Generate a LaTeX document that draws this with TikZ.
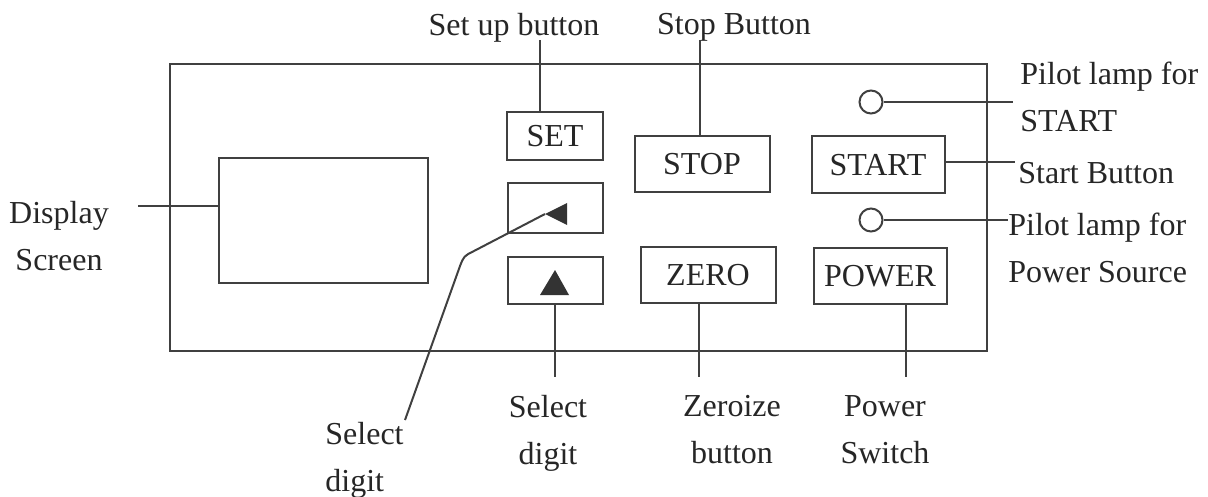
\documentclass[tikz,border=0pt]{standalone}
\usepackage{fontspec}
\setmainfont{Liberation Serif}
\begin{document}
\begin{tikzpicture}[x=0.5pt,y=-0.5pt,
  line/.style={draw=black!75,line width=1pt},
  btn/.style={draw=black!75,line width=1pt,inner sep=0pt,text=black!85,font=\fontsize{16}{23.5}\selectfont},
  lbl/.style={inner sep=0pt,text=black!85,font=\fontsize{16}{23.5}\selectfont},
  lamp/.style={draw=black!75,line width=1pt,circle,inner sep=0pt,minimum size=11.5pt}]
\useasboundingbox (0,0) rectangle (1208,497);
\fill[white] (0,0) rectangle (1208,497);
% panel
\draw[line] (170,64) rectangle (987,351);
% display
\node[btn,minimum width=104.5pt,minimum height=62.5pt] (disp) at (323.5,220.5) {};
% buttons
\node[btn,minimum width=48pt,minimum height=24pt] (set) at (555,136) {SET};
\node[btn,minimum width=47.5pt,minimum height=25pt] (left) at (555,208) {};
\node[btn,minimum width=47.5pt,minimum height=23.5pt] (up) at (555,280) {};
\node[btn,minimum width=67.5pt,minimum height=28pt] (stop) at (702,164) {STOP};
\node[btn,minimum width=67.5pt,minimum height=28pt] (zero) at (708,275) {ZERO};
\node[btn,minimum width=66.5pt,minimum height=28.5pt] (start) at (878,165) {START};
\node[btn,minimum width=66.5pt,minimum height=28pt] (power) at (880,276) {POWER};
% lamps
\node[lamp] (lamp1) at (871,102) {};
\node[lamp] (lamp2) at (871,220) {};
% triangles
\coordinate (ltip) at (545,214);
\fill[black!80] (ltip) -- (567,203) -- (567,225) -- cycle;
\fill[black!80] (555,270) -- (569,295) -- (540,295) -- cycle;
% labels
\node[lbl,anchor=north,align=center] (ldisp) at (59,201) {Display\\Screen};
\node[lbl,anchor=north] (lset) at (514,13) {Set up button};
\node[lbl,anchor=north] (lstop) at (734,13) {Stop Button};
\node[lbl,anchor=north west,align=left] (llamp1) at (1020,62) {Pilot lamp for\\START};
\node[lbl,anchor=north west] (lstart) at (1018,162) {Start Button};
\node[lbl,anchor=north west,align=left] (llamp2) at (1008,213) {Pilot lamp for\\Power Source};
\node[lbl,anchor=north west,align=left] (lsel1) at (325,422) {Select\\digit};
\node[lbl,anchor=north,align=center] (lsel2) at (548,395) {Select\\digit};
\node[lbl,anchor=north,align=center] (lzero) at (732,395) {Zeroize\\button};
\node[lbl,anchor=north,align=center] (lpow) at (885,395) {Power\\Switch};
% connector end points
\coordinate (cdisp) at (138,206);
\coordinate (cset) at (540,40);
\coordinate (cstop) at (700,40);
\coordinate (clamp1) at (1013,102);
\coordinate (cstart) at (1015,162);
\coordinate (clamp2) at (1008,220);
\coordinate (csel1) at (405,420);
\coordinate (csel2) at (555,377);
\coordinate (czero) at (699,377);
\coordinate (cpow) at (906,377);
% connectors
\draw[line] (cdisp) -- (cdisp -| disp.west);
\draw[line] (cset) -- (cset |- set.north);
\draw[line] (cstop) -- (cstop |- stop.north);
\draw[line] (lamp1.east) -- (clamp1);
\draw[line] (start.east |- cstart) -- (cstart);
\draw[line] (lamp2.east) -- (clamp2);
\draw[line] (csel1) -- (460,266) .. controls (464,256) .. (474,251) -- (ltip);
\draw[line] (csel2 |- up.south) -- (csel2);
\draw[line] (czero |- zero.south) -- (czero);
\draw[line] (cpow |- power.south) -- (cpow);
\end{tikzpicture}
\end{document}
